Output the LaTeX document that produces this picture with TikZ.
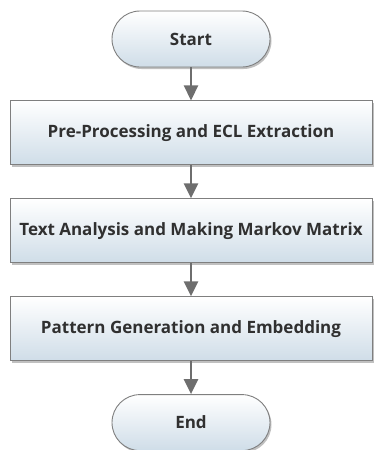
\documentclass[tikz,border=0pt]{standalone}
\usepackage{fontspec}
\setmainfont{Open Sans}
\usetikzlibrary{positioning,arrows.meta,shadows}
\definecolor{boxline}{HTML}{7F7F7F}
\definecolor{boxfill}{HTML}{CFDDE8}
\definecolor{arrowgray}{HTML}{6E6E6E}
\definecolor{textgray}{HTML}{303030}
\tikzset{
  basebox/.style={draw=boxline,line width=0.9pt,top color=white,bottom color=boxfill,
    text=textgray,font=\fontsize{17}{20}\selectfont\bfseries,inner xsep=4pt,
    drop shadow={shadow xshift=1.5pt,shadow yshift=-2pt,fill=black!55,opacity=0.45}},
  startstop/.style={basebox,rectangle,rounded corners=28pt,minimum width=158pt,minimum height=56pt},
  process/.style={basebox,rectangle,minimum width=362pt,minimum height=64pt},
  flow/.style={arrowgray,line width=2.6pt,-{Triangle[width=14pt,length=15pt]}}
}
\begin{document}
\begin{tikzpicture}[node distance=33pt]
\useasboundingbox (0pt,0pt) rectangle (373pt,-450pt);
\node[startstop] (start) at (191pt,-39pt) {Start};
\node[process,below=of start] (prep) {Pre-Processing and ECL Extraction};
\node[process,below=of prep] (markov) {Text Analysis and Making Markov Matrix};
\node[process,below=of markov] (pattern) {Pattern Generation and Embedding};
\node[startstop,below=of pattern] (end) {End};
% connectors
\draw[flow] (start) -- (prep);
\draw[flow] (prep) -- (markov);
\draw[flow] (markov) -- (pattern);
\draw[flow] (pattern) -- (end);
\end{tikzpicture}
\end{document}
